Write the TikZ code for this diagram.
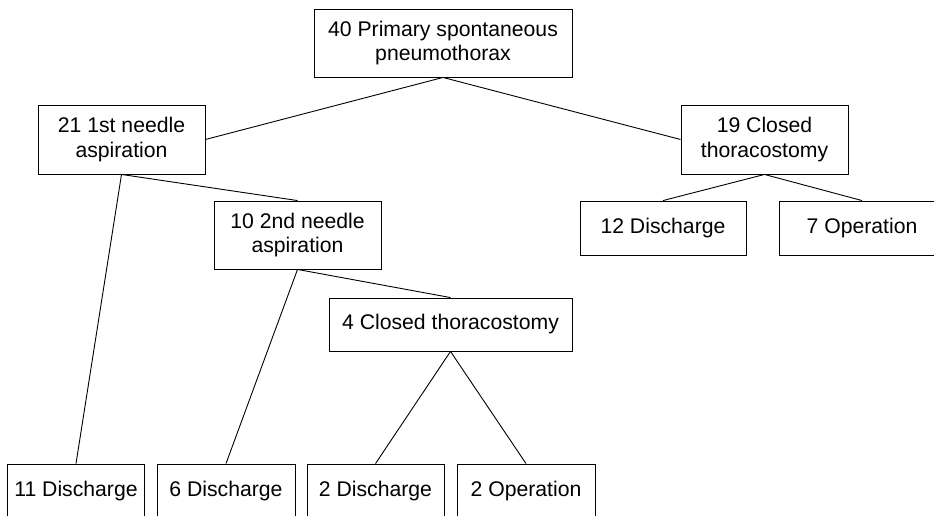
\documentclass[tikz,border=0pt]{standalone}
\usepackage{fontspec}
\setmainfont{Liberation Sans}
\begin{document}
\begin{tikzpicture}[x=1pt,y=-1pt,
  box/.style={draw,line width=0.9pt,align=center,inner sep=0pt,
    font=\fontsize{21.2}{24.5}\selectfont},
  link/.style={line width=0.9pt}]
\useasboundingbox (0,0) rectangle (934,516);
\node [box,minimum width=258pt,minimum height=68pt] (top) at (443,43) {40 Primary spontaneous\\pneumothorax};
\node [box,minimum width=167pt,minimum height=69pt] (n21) at (121.5,139.5) {21 1st needle\\aspiration};
\node [box,minimum width=167pt,minimum height=69pt] (n19) at (764.5,139.5) {19 Closed\\thoracostomy};
\node [box,minimum width=167pt,minimum height=68pt] (n10) at (297.5,235) {10 2nd needle\\aspiration};
\node [box,minimum width=166pt,minimum height=54pt] (d12) at (663,228) {12 Discharge};
\node [box,minimum width=166pt,minimum height=54pt] (op7) at (862,228) {7 Operation};
\node [box,minimum width=243pt,minimum height=53pt] (n4) at (450.5,324.5) {4 Closed thoracostomy};
\node [box,minimum width=137pt,minimum height=54pt] (d11) at (76,491) {11 Discharge};
\node [box,minimum width=138pt,minimum height=54pt] (d6) at (226,491) {6 Discharge};
\node [box,minimum width=137pt,minimum height=54pt] (d2) at (375.5,491) {2 Discharge};
\node [box,minimum width=138pt,minimum height=54pt] (op2) at (526,491) {2 Operation};
\draw[link] (top.south) -- (n21.east);
\draw[link] (top.south) -- (n19.west);
\draw[link] (n21.south) -- (n10.north);
\draw[link] (n21.south) -- (d11.north);
\draw[link] (n10.south) -- (d6.north);
\draw[link] (n10.south) -- (n4.north);
\draw[link] (n4.south) -- (d2.north);
\draw[link] (n4.south) -- (op2.north);
\draw[link] (n19.south) -- (d12.north);
\draw[link] (n19.south) -- (op7.north);
\end{tikzpicture}
\end{document}
